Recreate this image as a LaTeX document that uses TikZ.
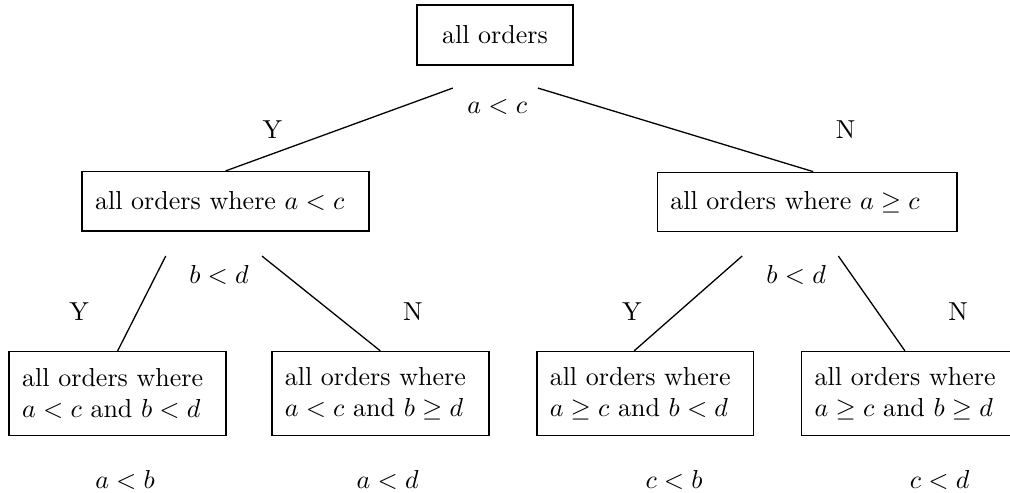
\documentclass[tikz,border=0pt]{standalone}
\usepackage{amsmath}
\usepackage{tikz}

\begin{document}
\begin{tikzpicture}[
        base/.style={draw, line width=0.6pt, inner xsep=5pt, inner ysep=3pt},
        root/.style={base, minimum width=2.11cm, minimum height=0.81cm},
        half/.style={base, align=left, minimum height=0.80cm},
        leaf/.style={base, align=left, text width=2.58cm, minimum height=1.135cm},
        link/.style={line width=0.5pt},
        cond/.style={inner sep=0pt},
        branch/.style={inner sep=0pt},
        pick/.style={inner sep=0pt}
    ]
    \useasboundingbox (-6.69, 0.47) rectangle (6.96, -6.19);

    \node (all) at (0, 0) [root] {all orders};

    \node (altc) at (-3.64, -2.25) [half, text width=3.53cm] {all orders where $a<c$};
    \node (agec) at (4.22, -2.26) [half, text width=3.70cm] {all orders where $a\geq c$};

    \node (altcBltd) at (-5.10, -4.85) [leaf] {all orders where\\$a<c$ and $b<d$};
    \node (altcBged) at (-1.55, -4.85) [leaf] {all orders where\\$a<c$ and $b\geq d$};
    \node (agecBltd) at (2.03, -4.85) [leaf] {all orders where\\$a\geq c$ and $b<d$};
    \node (agecBged) at (5.66, -4.85) [leaf, text width=2.68cm] {all orders where\\$a\geq c$ and $b\geq d$};

    \coordinate (allY) at (-0.57, -0.72);
    \coordinate (allN) at (0.58, -0.72);
    \coordinate (altcY) at (-4.45, -2.99);
    \coordinate (altcN) at (-3.15, -2.99);
    \coordinate (agecY) at (3.34, -2.99);
    \coordinate (agecN) at (4.64, -2.99);

    \node (allQ) at (0.03, -0.97) [cond] {$a<c$};
    \node (altcQ) at (-3.73, -3.24) [cond] {$b<d$};
    \node (agecQ) at (4.07, -3.24) [cond] {$b<d$};

    \node (allYes) at (-3.01, -1.28) [branch] {Y};
    \node (allNo) at (4.74, -1.28) [branch] {N};
    \node (altcYes) at (-5.62, -3.74) [branch] {Y};
    \node (altcNo) at (-1.11, -3.74) [branch] {N};
    \node (agecYes) at (1.85, -3.74) [branch] {Y};
    \node (agecNo) at (6.26, -3.74) [branch] {N};

    \node (pickA) at (-5.00, -6.01) [pick] {$a<b$};
    \node (pickB) at (-1.45, -6.01) [pick] {$a<d$};
    \node (pickC) at (2.42, -6.01) [pick] {$c<b$};
    \node (pickD) at (6.01, -6.01) [pick] {$c<d$};

    \draw [link] (allY) -- (altc.north);
    \draw [link] (allN) -- ([xshift=0.08cm]agec.north);
    \draw [link] (altcY) -- (altcBltd.north);
    \draw [link] (altcN) -- (altcBged.north);
    \draw [link] (agecY) -- ([xshift=-0.15cm]agecBltd.north);
    \draw [link] (agecN) -- ([xshift=-0.12cm]agecBged.north);

\end{tikzpicture}
\end{document}
